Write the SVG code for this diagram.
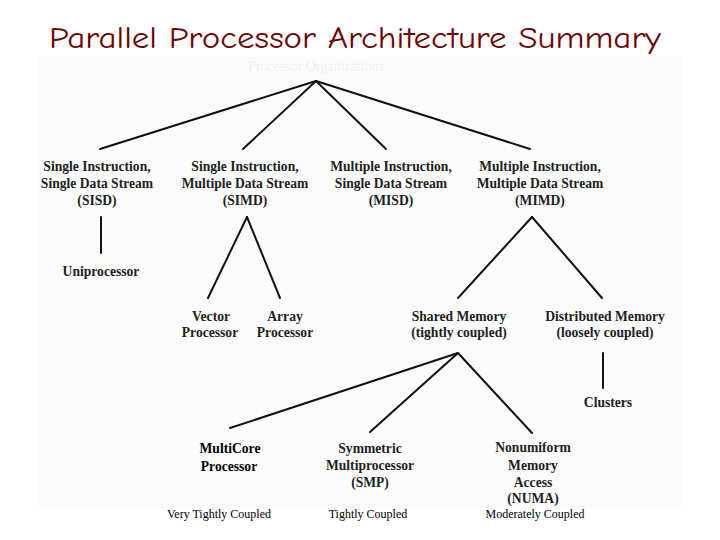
<svg xmlns="http://www.w3.org/2000/svg" width="720" height="540" viewBox="0 0 720 540">
<style>
.title{font-family:"Comic Neue","DejaVu Sans","Liberation Sans",sans-serif;font-size:31px;fill:#6e0505;text-anchor:middle}
.n{font-family:"Liberation Serif","Times New Roman",serif;font-size:13.6px;font-weight:bold;fill:#1e1e1e;text-anchor:middle}
.c{font-family:"Liberation Serif","Times New Roman",serif;font-size:12px;fill:#000;text-anchor:middle}
.faint{font-family:"Liberation Serif",serif;font-size:14px;fill:#efefef;text-anchor:middle}
.e{stroke:#111;stroke-width:2;fill:none;stroke-linecap:round}
</style>
<rect x="0" y="0" width="720" height="540" fill="#fff"/>
<rect x="38" y="57" width="644" height="452" fill="#fcfcfc"/>
<text class="title" x="355" y="48" textLength="612" lengthAdjust="spacingAndGlyphs">Parallel Processor Architecture Summary</text>
<text class="faint" x="316" y="71">Processor Organizations</text>
<g id="connectors">
<line class="e" x1="316" y1="81" x2="100" y2="149"/>
<line class="e" x1="316" y1="81" x2="243" y2="149"/>
<line class="e" x1="316" y1="81" x2="386" y2="149"/>
<line class="e" x1="316" y1="81" x2="530" y2="149"/>
<line class="e" x1="101" y1="217" x2="101" y2="253"/>
<line class="e" x1="247" y1="217" x2="208" y2="298"/>
<line class="e" x1="247" y1="217" x2="280" y2="298"/>
<line class="e" x1="532" y1="217" x2="458" y2="298"/>
<line class="e" x1="532" y1="217" x2="602" y2="298"/>
<line class="e" x1="458" y1="353" x2="230" y2="428"/>
<line class="e" x1="458" y1="353" x2="370" y2="432"/>
<line class="e" x1="458" y1="353" x2="532" y2="433"/>
<line class="e" x1="603" y1="353" x2="603" y2="388"/>
</g>
<g id="sisd"><text class="n" x="97" y="171">Single Instruction,</text><text class="n" x="97" y="188">Single Data Stream</text><text class="n" x="97" y="205">(SISD)</text></g>
<g id="simd"><text class="n" x="245" y="171">Single Instruction,</text><text class="n" x="245" y="188">Multiple Data Stream</text><text class="n" x="245" y="205">(SIMD)</text></g>
<g id="misd"><text class="n" x="391" y="171">Multiple Instruction,</text><text class="n" x="391" y="188">Single Data Stream</text><text class="n" x="391" y="205">(MISD)</text></g>
<g id="mimd"><text class="n" x="540" y="171">Multiple Instruction,</text><text class="n" x="540" y="188">Multiple Data Stream</text><text class="n" x="540" y="205">(MIMD)</text></g>
<g id="uniprocessor"><text class="n" x="101" y="276">Uniprocessor</text></g>
<g id="vector"><text class="n" x="211" y="321">Vector</text><text class="n" x="210" y="337">Processor</text></g>
<g id="array"><text class="n" x="285" y="321">Array</text><text class="n" x="285" y="337">Processor</text></g>
<g id="shared"><text class="n" x="459" y="321">Shared Memory</text><text class="n" x="459" y="337">(tightly coupled)</text></g>
<g id="distributed"><text class="n" x="605" y="321">Distributed Memory</text><text class="n" x="605" y="337">(loosely coupled)</text></g>
<g id="clusters"><text class="n" x="608" y="407">Clusters</text></g>
<g id="multicore"><text class="n" x="230" y="453" style="fill:#000">MultiCore</text><text class="n" x="229" y="471" style="fill:#000">Processor</text></g>
<g id="smp"><text class="n" x="370" y="453">Symmetric</text><text class="n" x="370" y="470">Multiprocessor</text><text class="n" x="370" y="487">(SMP)</text></g>
<g id="numa"><text class="n" x="533" y="452">Nonumiform</text><text class="n" x="533" y="470">Memory</text><text class="n" x="533" y="487">Access</text><text class="n" x="533" y="503">(NUMA)</text></g>
<g id="coupling"><text class="c" x="219" y="518">Very Tightly Coupled</text><text class="c" x="368" y="518">Tightly Coupled</text><text class="c" x="535" y="518">Moderately Coupled</text></g>
</svg>
